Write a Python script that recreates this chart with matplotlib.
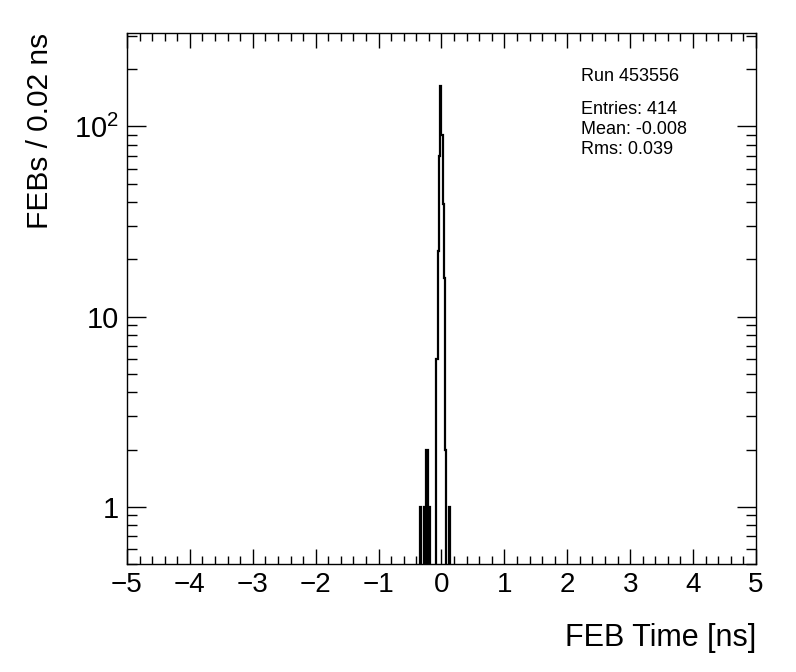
import numpy as np
import matplotlib
matplotlib.use("Agg")
import matplotlib.pyplot as plt
from matplotlib.ticker import FixedLocator, FixedFormatter, MultipleLocator

plt.rcParams['font.family'] = ['Liberation Sans', 'DejaVu Sans']
plt.rcParams['mathtext.fontset'] = 'custom'
plt.rcParams['mathtext.rm'] = 'Liberation Sans'

# histogram content (non-empty bins, 0.02 ns wide)
bin_centers = [-0.33, -0.27, -0.23, -0.19, -0.07, -0.05, -0.03, -0.01,
               0.01, 0.03, 0.05, 0.07, 0.13]
bin_counts = [1, 1, 2, 1, 6, 22, 70, 163, 90, 39, 16, 2, 1]

x_min, x_max, bin_w = -5.0, 5.0, 0.02
y_min, y_max = 0.5, 310

run_text = "Run 453556"
stat_lines = ["Entries: 414", "Mean: -0.008", "Rms: 0.039"]

edges = np.linspace(x_min, x_max, int(round((x_max - x_min) / bin_w)) + 1)
counts, _ = np.histogram(bin_centers, bins=edges, weights=bin_counts)

fig = plt.figure(figsize=(7.96, 6.72), dpi=100)
ax = fig.add_axes([0.1595, 0.1607, 0.9497 - 0.1595, 0.9509 - 0.1607])

# empty bins pushed below the axis so ROOT-like verticals drop to the frame
vals = np.where(counts > 0, counts, 1e-3)
ax.stairs(vals, edges, color='black', lw=1.6, baseline=1e-3)

ax.set_yscale('log')
ax.set_xlim(x_min, x_max)
ax.set_ylim(y_min, y_max)

ax.xaxis.set_major_locator(MultipleLocator(1))
ax.xaxis.set_minor_locator(MultipleLocator(0.2))
ax.yaxis.set_major_locator(FixedLocator([1, 10, 100]))
ax.yaxis.set_major_formatter(FixedFormatter(['1', '10', r'$\mathregular{10^{2}}$']))
minor_y = [m * 10.0 ** k for k in (-1, 0, 1, 2) for m in range(2, 10)]
ax.yaxis.set_minor_locator(FixedLocator(minor_y))
ax.yaxis.set_minor_formatter(FixedFormatter([''] * len(minor_y)))

ax.tick_params(which='both', direction='in', top=True, right=True, width=1.0)
ax.tick_params(axis='x', which='major', length=11, labelsize=20, pad=6)
ax.tick_params(axis='x', which='minor', length=5.5)
ax.tick_params(axis='y', which='major', length=14, labelsize=21, pad=6)
ax.tick_params(axis='y', which='minor', length=7)
for s in ax.spines.values():
    s.set_linewidth(1.0)

fig.text(0.9497, 0.0506, "FEB Time [ns]", ha='right', va='center', fontsize=22)
fig.text(0.0503, 0.9509, "FEBs / 0.02 ns", ha='center', va='top',
         rotation=90, fontsize=21.5)

fig.text(0.730, 0.886, run_text, ha='left', va='center', fontsize=13)
for i, line in enumerate(stat_lines):
    fig.text(0.730, 0.837 - i * 0.0295, line, ha='left', va='center', fontsize=13)

fig.savefig("out.png", dpi=100)
